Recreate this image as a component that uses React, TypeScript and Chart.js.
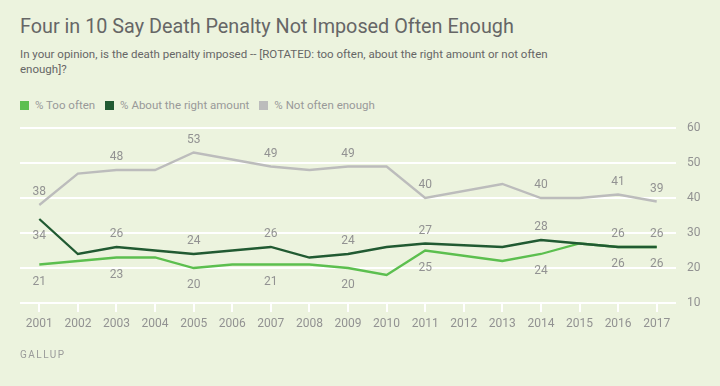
import React, { useEffect, useRef } from "react";
import { Chart, registerables } from "chart.js";

Chart.register(...registerables);

const years = ["2001", "2002", "2003", "2004", "2005", "2006", "2007", "2008", "2009", "2010", "2011", "2012", "2013", "2014", "2015", "2016", "2017"];
const tooOften = [21, 22, 23, 23, 20, 21, 21, 21, 20, 18, 25, null, 22, 24, 27, 26, 26];
const aboutRight = [34, 24, 26, 25, 24, 25, 26, 23, 24, 26, 27, null, 26, 28, 27, 26, 26];
const notOftenEnough = [38, 47, 48, 48, 53, 51, 49, 48, 49, 49, 40, null, 44, 40, 40, 41, 39];
const labeledYears = ["2001", "2003", "2005", "2007", "2009", "2011", "2014", "2016", "2017"];
const seriesNames = ["% Too often", "% About the right amount", "% Not often enough"];
const yTicks = [10, 20, 30, 40, 50, 60];

const BG = "#ecf3de";
const C_TOO = "#5cbf4f";
const C_ABOUT = "#215a32";
const C_NOT = "#bcbcbc";
const TEXT_GREY = "#929292";
const FONT = "Roboto, 'Liberation Sans', Arial, sans-serif";

const labelPlugin = {
  id: "pointLabels",
  afterDatasetsDraw(chart: any) {
    const ctx = chart.ctx;
    ctx.save();
    ctx.font = `12px ${FONT}`;
    ctx.fillStyle = TEXT_GREY;
    ctx.textAlign = "center";
    ctx.textBaseline = "middle";
    chart.data.datasets.forEach((ds: any, di: number) => {
      const meta = chart.getDatasetMeta(di);
      labeledYears.forEach((yr) => {
        const i = years.indexOf(yr);
        const v = ds.data[i];
        if (v === null || v === undefined) return;
        const pt = meta.data[i];
        let below = false;
        if (di === 0) below = true;
        if (di === 1 && i === 0) below = true;
        const y = below ? pt.y + 17 : pt.y - 13;
        ctx.fillText(String(v), pt.x, y);
      });
    });
    ctx.restore();
  },
};

export default function App() {
  const ref = useRef<HTMLCanvasElement | null>(null);

  useEffect(() => {
    if (!ref.current) return;
    const chart = new Chart(ref.current, {
      type: "line",
      data: {
        labels: years,
        datasets: [
          { label: seriesNames[0], data: tooOften, borderColor: C_TOO, backgroundColor: C_TOO, order: 1 },
          { label: seriesNames[1], data: aboutRight, borderColor: C_ABOUT, backgroundColor: C_ABOUT, order: 0 },
          { label: seriesNames[2], data: notOftenEnough, borderColor: C_NOT, backgroundColor: C_NOT, order: 2 },
        ].map((d) => ({ ...d, borderWidth: 2.3, pointRadius: 0, pointHoverRadius: 0, tension: 0, spanGaps: true, fill: false })),
      },
      options: {
        responsive: false,
        animation: false,
        events: [],
        layout: { padding: { left: 20, right: 0, top: 128, bottom: 53 } },
        plugins: { legend: { display: false }, tooltip: { enabled: false }, title: { display: false } },
        scales: {
          x: {
            offset: true,
            border: { display: false },
            grid: { offset: false, drawOnChartArea: false, drawTicks: true, tickLength: 9, color: "#ffffff", lineWidth: 2 },
            ticks: { color: TEXT_GREY, font: { family: FONT, size: 12 }, padding: 5, maxRotation: 0, autoSkip: false },
            afterFit: (s: any) => { s.height = 30; },
          },
          y: {
            position: "right",
            min: yTicks[0],
            max: yTicks[yTicks.length - 1],
            border: { display: false },
            grid: { color: "#ffffff", lineWidth: 2, drawTicks: false },
            ticks: { stepSize: 10, color: TEXT_GREY, font: { family: FONT, size: 12 }, padding: 11 },
            afterFit: (s: any) => { s.width = 44; },
          },
        },
      },
      plugins: [labelPlugin],
    });
    return () => chart.destroy();
  }, []);

  const legendColors = [C_TOO, C_ABOUT, C_NOT];

  return (
    <div style={{ position: "absolute", left: 0, top: 0, width: 720, height: 386, background: BG, overflow: "hidden", fontFamily: FONT }}>
      <div style={{ position: "absolute", left: 20, top: 17, fontSize: 19.8, lineHeight: "20px", color: "#666666", whiteSpace: "nowrap" }}>
        Four in 10 Say Death Penalty Not Imposed Often Enough
      </div>
      <div style={{ position: "absolute", left: 20, top: 47, width: 560, fontSize: 11.5, lineHeight: "14.5px", color: "#666666" }}>
        In your opinion, is the death penalty imposed -- [ROTATED: too often, about the right amount or not often<br />enough]?
      </div>
      <div style={{ position: "absolute", left: 20, top: 98, display: "flex", alignItems: "center", fontSize: 11.5, lineHeight: "14px", color: "#999999", whiteSpace: "nowrap" }}>
        {seriesNames.map((n, i) => (
          <span key={n} style={{ display: "flex", alignItems: "center", marginRight: 10 }}>
            <span style={{ display: "inline-block", width: 9, height: 9, background: legendColors[i], marginRight: 6 }} />
            {n}
          </span>
        ))}
      </div>
      <canvas ref={ref} width={720} height={386} style={{ position: "absolute", left: 0, top: 0, width: 720, height: 386 }} />
      <div style={{ position: "absolute", left: 20, top: 348, fontSize: 10, lineHeight: "14px", letterSpacing: "1.5px", color: "#9a9a9a" }}>
        GALLUP
      </div>
    </div>
  );
}
